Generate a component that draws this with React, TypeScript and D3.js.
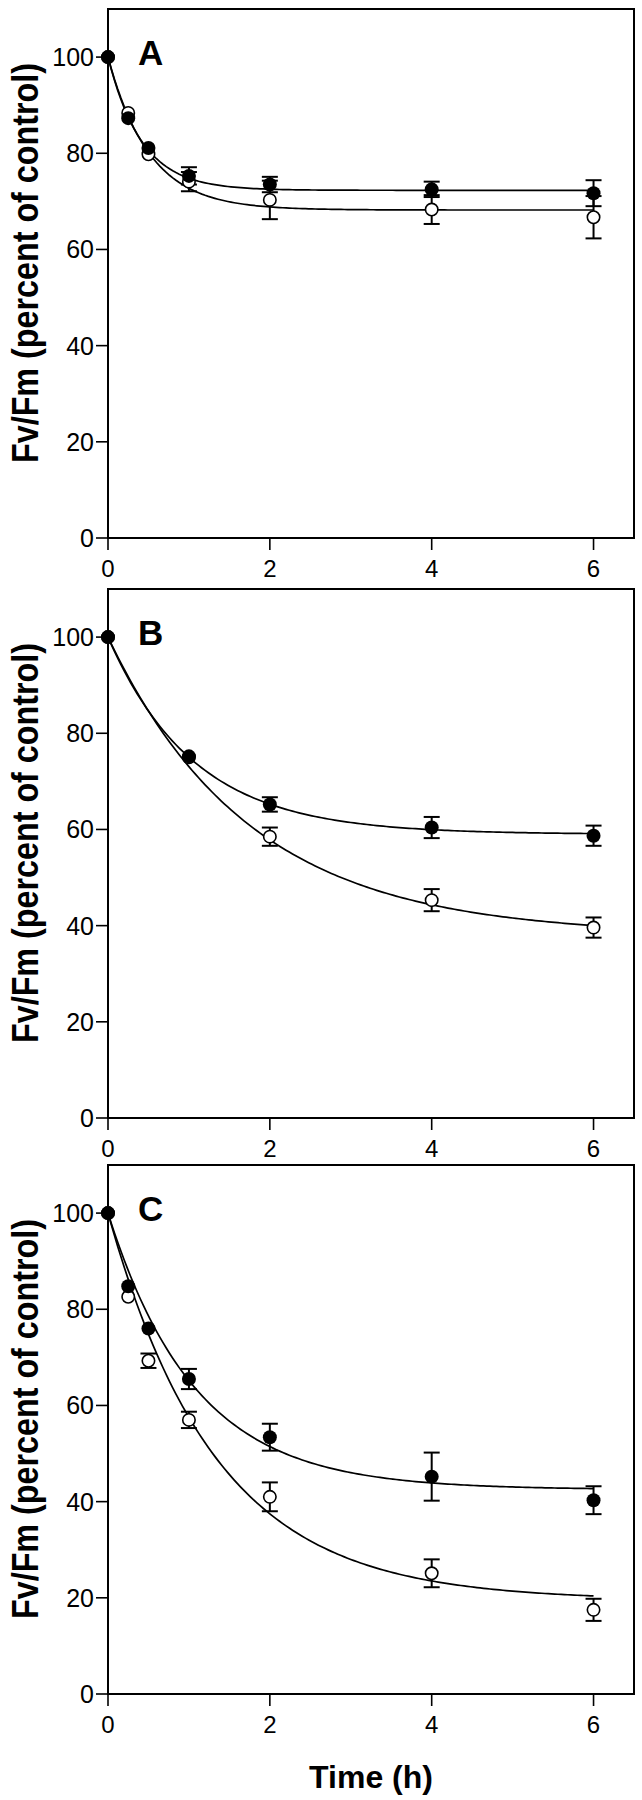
import React from "react";
import * as d3 from "d3";

// ---------- data ----------
const panelLabels = ["A", "B", "C"];
const xTicks = [0, 2, 4, 6];
const yTicks = [0, 20, 40, 60, 80, 100];

const timesA = [0, 0.25, 0.5, 1, 2, 4, 6];
const filledA = [100, 87.3, 81.1, 75.3, 73.5, 72.5, 71.7];
const filledAErr = [0, 0, 0, 1.8, 1.6, 1.6, 2.7];
const openA = [100, 88.4, 79.8, 74.1, 70.3, 68.3, 66.7];
const openAErr = [0, 0, 0, 2.0, 4.0, 3.0, 4.4];

const timesB = [0, 1, 2, 4, 6];
const filledB = [100, 75.2, 65.2, 60.4, 58.7];
const filledBErr = [0, 0, 1.5, 2.2, 2.1];
const openB = [100, 75.0, 58.5, 45.3, 39.6];
const openBErr = [0, 0, 1.9, 2.3, 2.1];

const timesC = [0, 0.25, 0.5, 1, 2, 4, 6];
const filledC = [100, 84.8, 76.0, 65.5, 53.4, 45.2, 40.3];
const filledCErr = [0, 0, 0, 2.1, 2.8, 5.0, 2.9];
const openC = [100, 82.6, 69.3, 57.0, 41.0, 25.1, 17.5];
const openCErr = [0, 0, 1.5, 1.7, 3.0, 2.9, 2.3];

// fitted single-exponential decay curves: y = plateau + (100 - plateau) * exp(-rate * t)
const fitPlateauFilled = [72.3, 59, 42.5];
const fitRateFilled = [2.4, 0.94, 0.93];
const fitPlateauOpen = [68.2, 38, 19.5];
const fitRateOpen = [1.95, 0.57, 0.75];

const yAxisTitle = "Fv/Fm (percent of control)";
const xAxisTitle = "Time (h)";

// ---------- layout ----------
const W = 642;
const H = 1800;
const xLeft = 108;
const xRight = 634;
const panelZero = [538, 1118, 1694];
const panelSpan = 529; // pixels for 0..110
const FONT = "'Liberation Sans', Arial, Helvetica, sans-serif";

const panels = [
  { label: panelLabels[0], t: timesA, f: filledA, fe: filledAErr, o: openA, oe: openAErr },
  { label: panelLabels[1], t: timesB, f: filledB, fe: filledBErr, o: openB, oe: openBErr },
  { label: panelLabels[2], t: timesC, f: filledC, fe: filledCErr, o: openC, oe: openCErr },
];

const x = d3.scaleLinear().domain([0, 6.5]).range([xLeft, xRight]);
const curveT = d3.range(0, 6.0001, 0.04);

function Panel({ idx }: { idx: number }) {
  const p = panels[idx];
  const y0 = panelZero[idx];
  const y = d3.scaleLinear().domain([0, 110]).range([y0, y0 - panelSpan]);
  const line = d3
    .line<number>()
    .x((t) => x(t))
    .curve(d3.curveLinear);
  const filledPath = line.y((t) => y(fitPlateauFilled[idx] + (100 - fitPlateauFilled[idx]) * Math.exp(-fitRateFilled[idx] * t)))(curveT);
  const openPath = line.y((t) => y(fitPlateauOpen[idx] + (100 - fitPlateauOpen[idx]) * Math.exp(-fitRateOpen[idx] * t)))(curveT);
  const r = 7;
  const cap = 8;

  const errBars = (vals: number[], errs: number[], key: string) =>
    p.t.map((t, i) =>
      errs[i] > 0 ? (
        <g key={key + i} stroke="#000" strokeWidth={2}>
          <line x1={x(t)} x2={x(t)} y1={y(vals[i] - errs[i])} y2={y(vals[i] + errs[i])} />
          <line x1={x(t) - cap} x2={x(t) + cap} y1={y(vals[i] + errs[i])} y2={y(vals[i] + errs[i])} />
          <line x1={x(t) - cap} x2={x(t) + cap} y1={y(vals[i] - errs[i])} y2={y(vals[i] - errs[i])} />
        </g>
      ) : null
    );

  return (
    <g>
      {/* frame */}
      <rect
        x={xLeft}
        y={y(110)}
        width={xRight - xLeft}
        height={y(0) - y(110)}
        fill="none"
        stroke="#000"
        strokeWidth={2}
      />
      {/* y ticks */}
      {yTicks.map((v) => (
        <g key={"yt" + v}>
          <line x1={xLeft - 12} x2={xLeft} y1={y(v)} y2={y(v)} stroke="#000" strokeWidth={1.6} />
          <text
            x={xLeft - 14}
            y={y(v)}
            dy="0.36em"
            textAnchor="end"
            fontFamily={FONT}
            fontSize={25}
            fill="#000"
          >
            {v}
          </text>
        </g>
      ))}
      {/* x ticks */}
      {xTicks.map((v) => (
        <g key={"xt" + v}>
          <line x1={x(v)} x2={x(v)} y1={y0} y2={y0 + 12} stroke="#000" strokeWidth={1.6} />
          <text x={x(v)} y={y0 + 39} textAnchor="middle" fontFamily={FONT} fontSize={24} fill="#000">
            {v}
          </text>
        </g>
      ))}
      {/* panel letter */}
      <text x={x(0.37)} y={y(98.3)} fontFamily={FONT} fontWeight="bold" fontSize={35} fill="#000">
        {p.label}
      </text>
      {/* y axis title */}
      <text
        transform={`translate(38, ${y0 - 275}) rotate(-90)`}
        textAnchor="middle"
        fontFamily={FONT}
        fontWeight="bold"
        fontSize={37}
        textLength={400}
        lengthAdjust="spacingAndGlyphs"
        fill="#000"
      >
        {yAxisTitle}
      </text>
      {/* fitted curves */}
      <path d={openPath || ""} fill="none" stroke="#000" strokeWidth={1.7} />
      <path d={filledPath || ""} fill="none" stroke="#000" strokeWidth={1.7} />
      {/* error bars */}
      {errBars(p.o, p.oe, "oe")}
      {errBars(p.f, p.fe, "fe")}
      {/* open markers */}
      {p.t.map((t, i) => (
        <circle key={"o" + i} cx={x(t)} cy={y(p.o[i])} r={r - 0.8} fill="#fff" stroke="#000" strokeWidth={1.6} />
      ))}
      {/* filled markers */}
      {p.t.map((t, i) => (
        <circle key={"f" + i} cx={x(t)} cy={y(p.f[i])} r={r} fill="#000" />
      ))}
    </g>
  );
}

export default function App() {
  return (
    <svg
      width={W}
      height={H}
      viewBox={`0 0 ${W} ${H}`}
      style={{ position: "absolute", left: 0, top: 0, background: "#fff" }}
    >
      <rect x={0} y={0} width={W} height={H} fill="#fff" />
      {panels.map((_, i) => (
        <Panel key={i} idx={i} />
      ))}
      <text
        x={(xLeft + xRight) / 2}
        y={1788}
        textAnchor="middle"
        fontFamily={FONT}
        fontWeight="bold"
        fontSize={32}
        fill="#000"
      >
        {xAxisTitle}
      </text>
    </svg>
  );
}
